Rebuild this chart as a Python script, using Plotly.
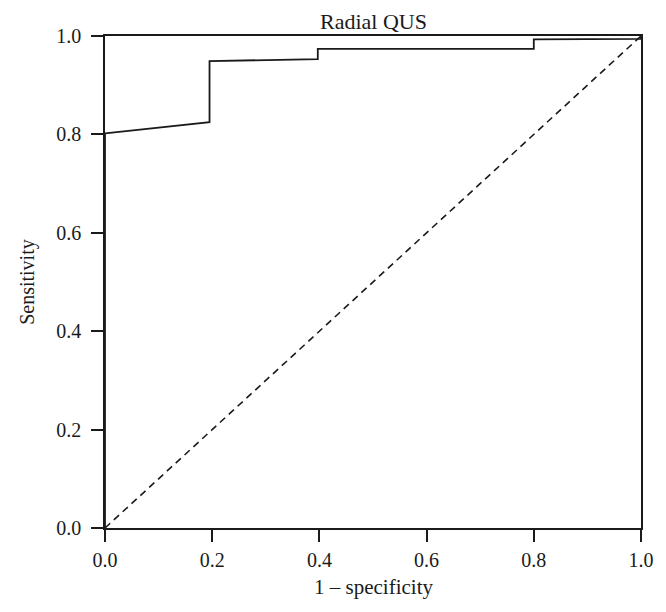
import plotly.graph_objects as go

# ROC curve (1 - specificity, sensitivity)
fpr = [0.0, 0.0, 0.195, 0.195, 0.397, 0.397, 0.80, 0.80, 1.0, 1.0]
tpr = [0.0, 0.802, 0.825, 0.949, 0.953, 0.974, 0.974, 0.993, 0.994, 1.0]
ref_x = [0.0, 1.0]
ref_y = [0.0, 1.0]
tick_vals = [0.0, 0.2, 0.4, 0.6, 0.8, 1.0]
tick_text = ["0.0", "0.2", "0.4", "0.6", "0.8", "1.0"]

FONT = "Liberation Serif"
INK = "#1a1a1a"

fig = go.Figure()
fig.add_trace(go.Scatter(x=ref_x, y=ref_y, mode="lines",
                         line=dict(color=INK, width=1.6, dash="7px,5px"),
                         hoverinfo="skip", showlegend=False))
fig.add_trace(go.Scatter(x=fpr, y=tpr, mode="lines",
                         line=dict(color=INK, width=1.8),
                         showlegend=False))

axis_common = dict(range=[0, 1], tickvals=tick_vals, ticktext=tick_text,
                   ticks="outside", ticklen=12, tickwidth=1.5, tickcolor=INK,
                   showline=True, linecolor=INK, linewidth=1.5, mirror=True,
                   showgrid=False, zeroline=False,
                   tickfont=dict(family=FONT, size=20, color=INK))

fig.update_xaxes(**axis_common, ticklabelstandoff=1)
fig.update_yaxes(**axis_common, ticklabelstandoff=6)

# page body has an 8px margin, so the figure is shrunk by 8px each way
fig.update_layout(
    width=658, height=604,
    margin=dict(l=97, r=18, t=28, b=84),
    plot_bgcolor="white", paper_bgcolor="white",
    font=dict(family=FONT, size=20, color=INK),
    annotations=[
        dict(text="Radial QUS", x=0.5, y=1, xref="paper", yref="paper",
             xanchor="center", yanchor="bottom", yshift=0, showarrow=False,
             font=dict(family=FONT, size=22, color=INK)),
        dict(text="1 \u2013 specificity", x=0.5, y=(520 - 578) / 484,
             xref="paper", yref="paper", xanchor="center", yanchor="middle",
             showarrow=False, font=dict(family=FONT, size=21, color=INK)),
        dict(text="Sensitivity", x=(27 - 105) / 535, y=0.5,
             xref="paper", yref="paper", xanchor="center", yanchor="middle",
             textangle=-90, showarrow=False,
             font=dict(family=FONT, size=20, color=INK)),
    ],
)

fig.write_html("out.html")
